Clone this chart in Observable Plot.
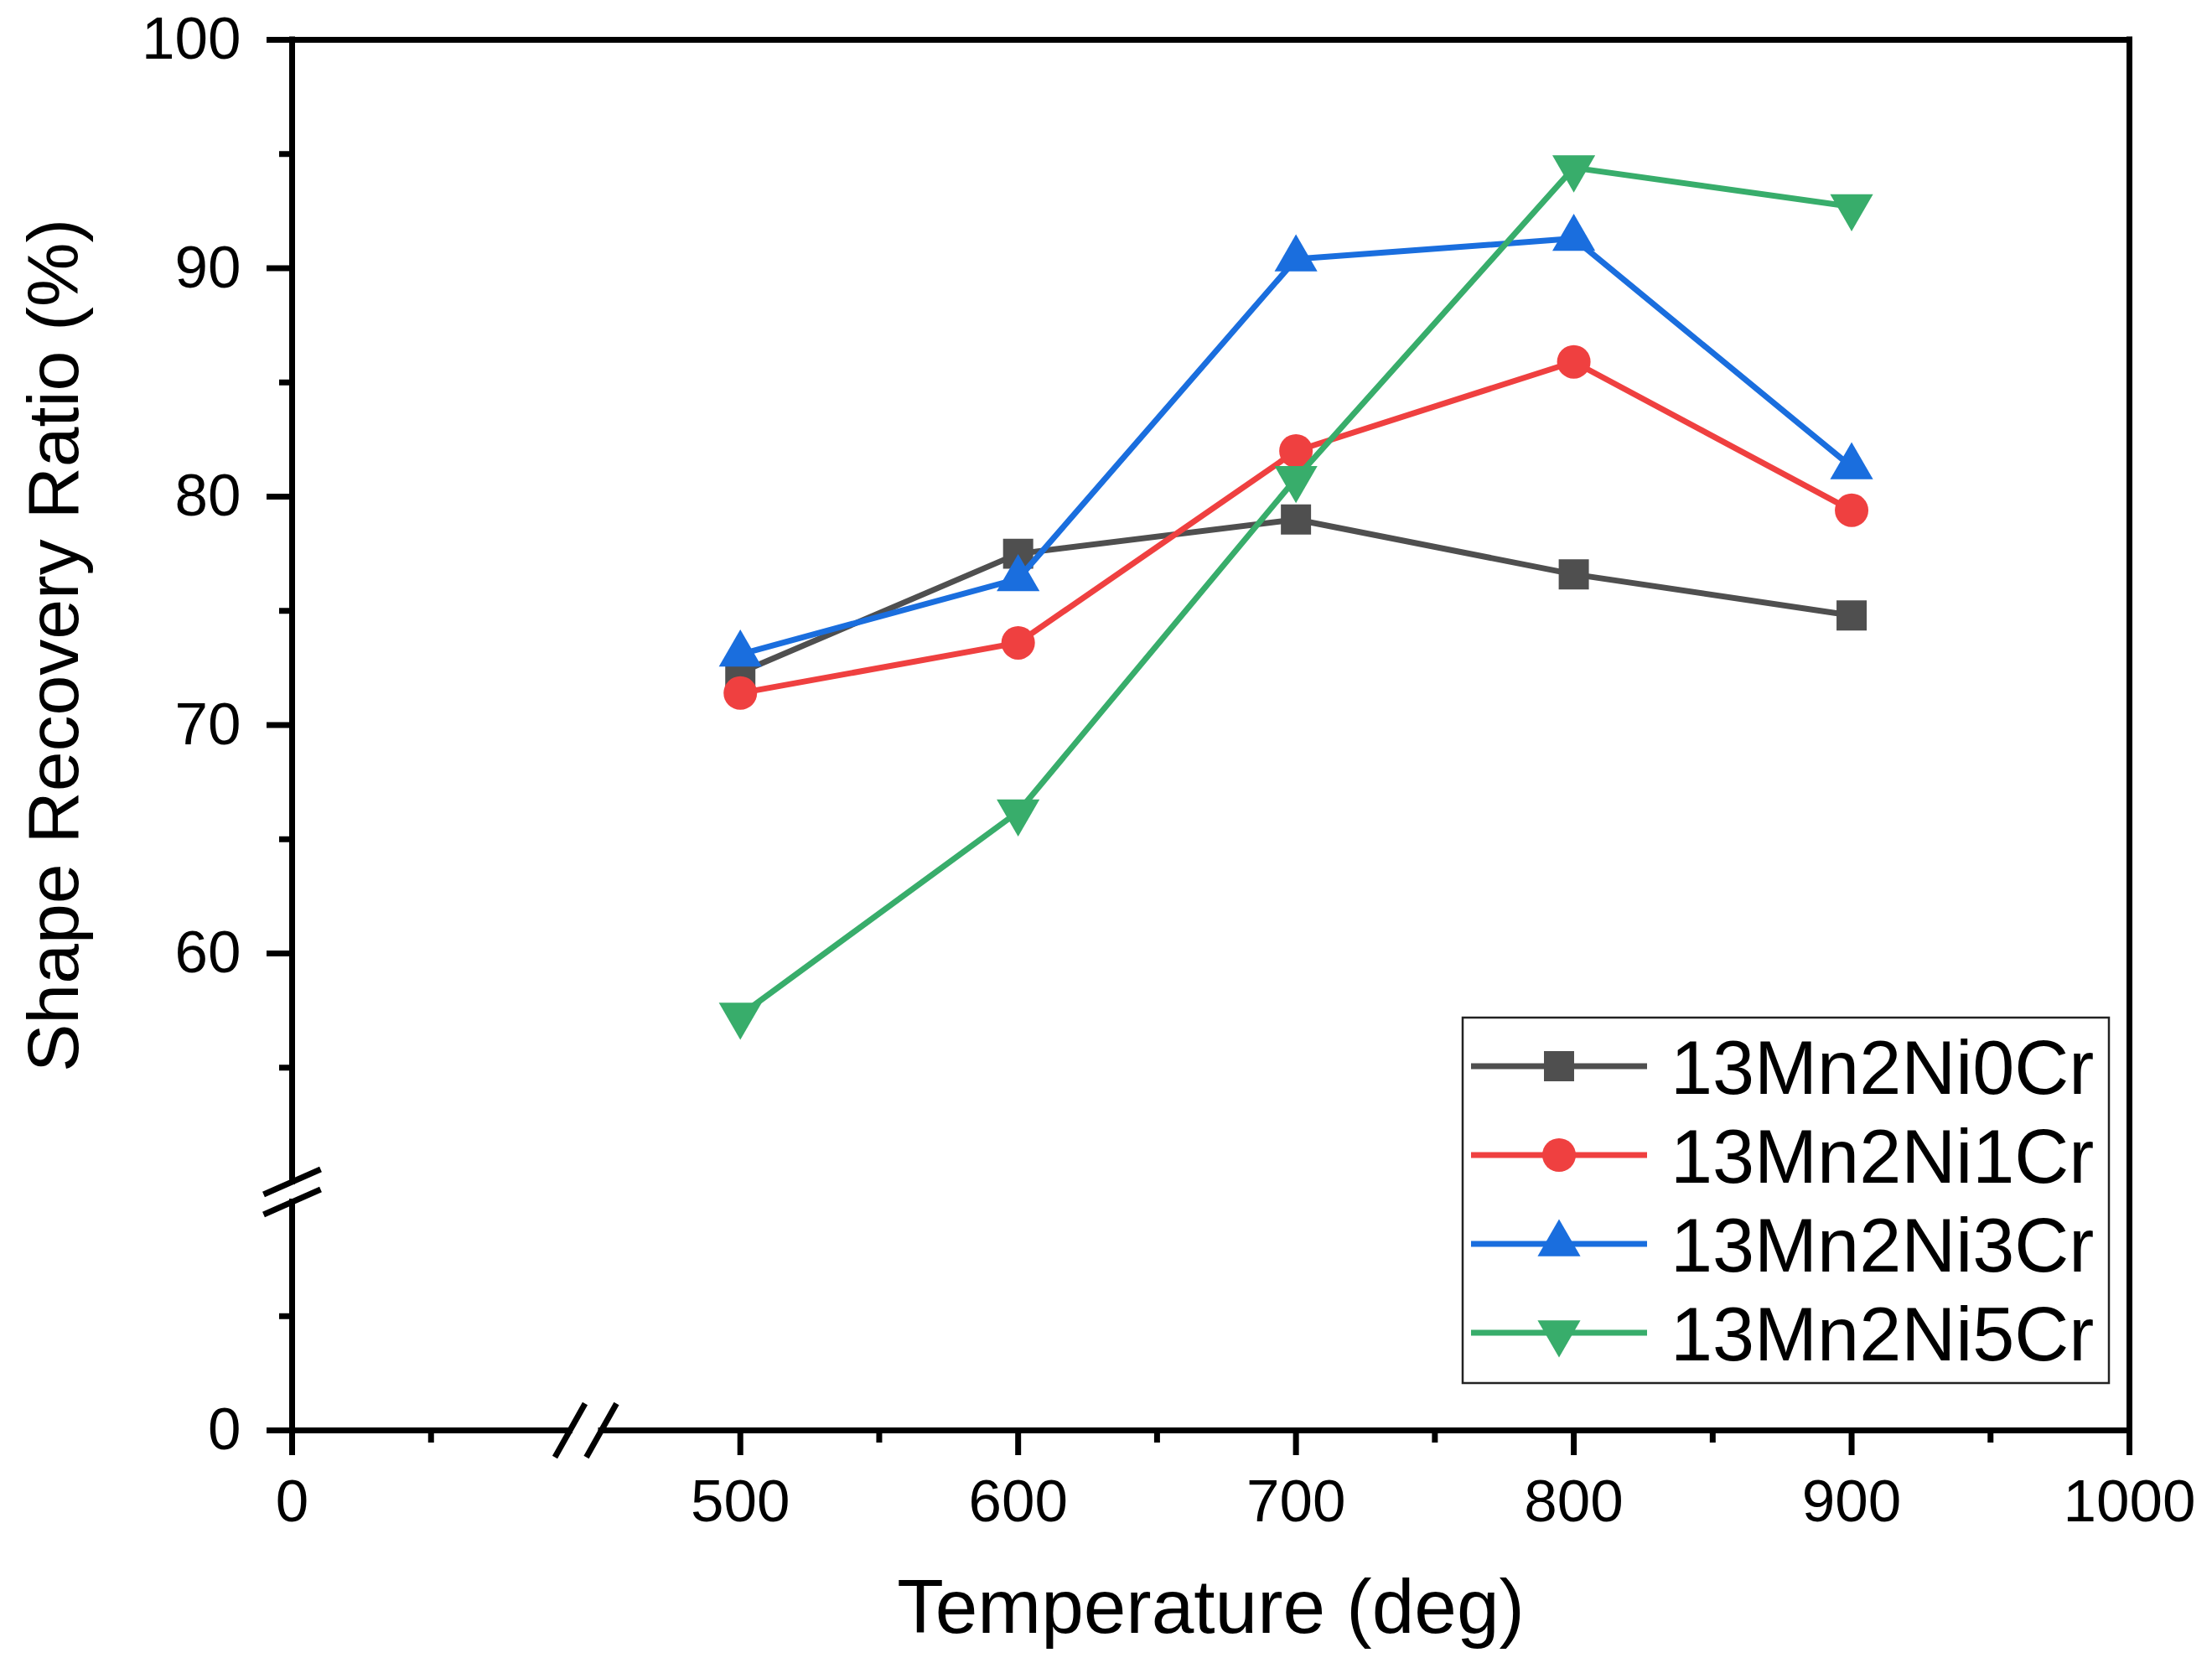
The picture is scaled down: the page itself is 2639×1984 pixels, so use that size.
<!DOCTYPE html>
<html>
<head>
<meta charset="utf-8">
<script src="https://cdn.jsdelivr.net/npm/d3@7"></script>
<script src="https://cdn.jsdelivr.net/npm/@observablehq/plot@0.6"></script>
<style>
  body { margin: 0; background: #fff; }
  #chart { width: 2639px; height: 1984px; }
</style>
</head>
<body>
<div id="chart"></div>
<script>
/*
    SHAPE RECOVERY RATIO vs ANNEALING TEMPERATURE
*/
const temperatures = [500, 600, 700, 800, 900];
const seriesNames = ["13Mn2Ni0Cr", "13Mn2Ni1Cr", "13Mn2Ni3Cr", "13Mn2Ni5Cr"];
const ratio0Cr = [72.3, 77.5, 79.0, 76.6, 74.8];
const ratio1Cr = [71.4, 73.6, 82.0, 85.9, 79.4];
const ratio3Cr = [73.1, 76.4, 90.4, 91.3, 81.3];
const ratio5Cr = [57.3, 66.2, 80.8, 94.4, 92.7];
const seriesValues = [ratio0Cr, ratio1Cr, ratio3Cr, ratio5Cr];
const seriesColors = ["#4f4f4f", "#ef4040", "#1a6ede", "#38ad6b"];
const seriesSymbols = ["square", "circle", "triangle", "triangle"];
const seriesRotate = [0, 0, 0, 180];
const seriesRadius = [20.3, 20, 19, 19];

// broken axes: x jumps 100 -> 450, y jumps 10 -> 50
const xBreak = [100, 450];
const yBreak = [10, 50];
const xMajorTicks = [0, 500, 600, 700, 800, 900, 1000];
const xMinorTicks = [50, 550, 650, 750, 850, 950];
const yMajorTicks = [0, 60, 70, 80, 90, 100];
const yMinorTicks = [5, 55, 65, 75, 85, 95];

const rows = seriesNames.flatMap((name, i) =>
    temperatures.map((t, j) => ({ Sample: name, Temperature: t, Ratio: seriesValues[i][j] })));

const fontFamily = "'Liberation Sans', Arial, sans-serif";
const axisWidth = 7;

// a short stroke used for the "//" break marks
const slash = (hx, hy) => ({
    draw(context) {
        context.moveTo(-hx, hy);
        context.lineTo(hx, -hy);
    }
});

function getPlot_ShapeRecovery() {
    const seriesMarks = seriesNames.flatMap((name, i) => [
        Plot.line(rows, { filter: (d) => d.Sample == name, x: "Temperature", y: "Ratio", stroke: seriesColors[i], strokeWidth: 7 }),
        Plot.dot(rows, { filter: (d) => d.Sample == name, x: "Temperature", y: "Ratio", symbol: seriesSymbols[i], r: seriesRadius[i], rotate: seriesRotate[i], fill: seriesColors[i], stroke: "none" })
    ]);

    return Plot.plot({
        width: 2639,
        height: 1984,
        marginLeft: 348,
        marginRight: 99,
        marginTop: 47,
        marginBottom: 278,
        style: { fontFamily: fontFamily, color: "#000", background: "#fff" },
        x: { type: "linear", domain: [0, xBreak[0], xBreak[1], 1000], range: [348, 679.5, 717, 2540], axis: null },
        y: { type: "linear", domain: [0, yBreak[0], yBreak[1], 100], range: [1706, 1433.5, 1409.5, 47], axis: null },
        marks: [
            // box: top and right sides, broken bottom and left sides
            Plot.ruleY([100], { stroke: "#000", strokeWidth: axisWidth, strokeLinecap: "square" }),
            Plot.ruleX([1000], { stroke: "#000", strokeWidth: axisWidth, strokeLinecap: "square" }),
            Plot.ruleY([[0, xBreak[0]], [xBreak[1], 1000]], { y: () => 0, x1: (d) => d[0], x2: (d) => d[1], stroke: "#000", strokeWidth: axisWidth, strokeLinecap: "square" }),
            Plot.ruleX([[0, yBreak[0]], [yBreak[1], 100]], { x: () => 0, y1: (d) => d[0], y2: (d) => d[1], stroke: "#000", strokeWidth: axisWidth, strokeLinecap: "square" }),
            Plot.dot(xBreak, { x: (d) => d, y: () => 0, symbol: slash(18, 32), r: 10, fill: "none", stroke: "#000", strokeWidth: axisWidth }),
            Plot.dot(yBreak, { x: () => 0, y: (d) => d, symbol: slash(34, 15), r: 10, fill: "none", stroke: "#000", strokeWidth: axisWidth }),

            Plot.axisX(xMajorTicks, { anchor: "bottom", tickSize: 30, tickPadding: 28, strokeWidth: axisWidth, fontSize: 71, tickFormat: "d", label: null }),
            Plot.axisX(xMinorTicks, { anchor: "bottom", tickSize: 15, strokeWidth: axisWidth, tickFormat: () => "", label: null }),
            Plot.axisY(yMajorTicks, { anchor: "left", tickSize: 30, tickPadding: 31, strokeWidth: axisWidth, fontSize: 71, tickFormat: "d", label: null }),
            Plot.axisY(yMinorTicks, { anchor: "left", tickSize: 15, strokeWidth: axisWidth, tickFormat: () => "", label: null }),

            ...seriesMarks,

            Plot.text(["Temperature (deg)"], { text: (d) => d, frameAnchor: "bottom", dy: 212, lineAnchor: "middle", fontSize: 91, fill: "#000" }),
            Plot.text(["Shape Recovery Ratio (%)"], { text: (d) => d, frameAnchor: "left", textAnchor: "middle", rotate: -90, dx: -283, dy: -107, lineAnchor: "middle", fontSize: 86, fill: "#000" })
        ]
    });
}

function addLegend(svg) {
    const box = { x: 1745, y: 1214, w: 771, h: 436 };
    const rowY = (i) => 1272 + i * 106;
    const g = d3.select(svg).append("g").attr("font-family", fontFamily).attr("text-anchor", "start");
    g.append("rect")
        .attr("x", box.x).attr("y", box.y).attr("width", box.w).attr("height", box.h)
        .attr("fill", "#fff").attr("stroke", "#222").attr("stroke-width", 2.5);
    const d3Symbols = { square: d3.symbolSquare, circle: d3.symbolCircle, triangle: d3.symbolTriangle };
    seriesNames.forEach((name, i) => {
        const y = rowY(i);
        g.append("line")
            .attr("x1", 1755).attr("x2", 1965).attr("y1", y).attr("y2", y)
            .attr("stroke", seriesColors[i]).attr("stroke-width", 7);
        g.append("path")
            .attr("d", d3.symbol(d3Symbols[seriesSymbols[i]], Math.PI * seriesRadius[i] ** 2)())
            .attr("transform", `translate(1860,${y}) rotate(${seriesRotate[i]})`)
            .attr("fill", seriesColors[i]);
        g.append("text")
            .attr("x", 1993).attr("y", y + 33)
            .attr("text-anchor", "start")
            .attr("font-size", 90).attr("fill", "#000")
            .text(name);
    });
}

const chart = getPlot_ShapeRecovery();
addLegend(chart);
document.getElementById("chart").append(chart);
</script>
</body>
</html>
